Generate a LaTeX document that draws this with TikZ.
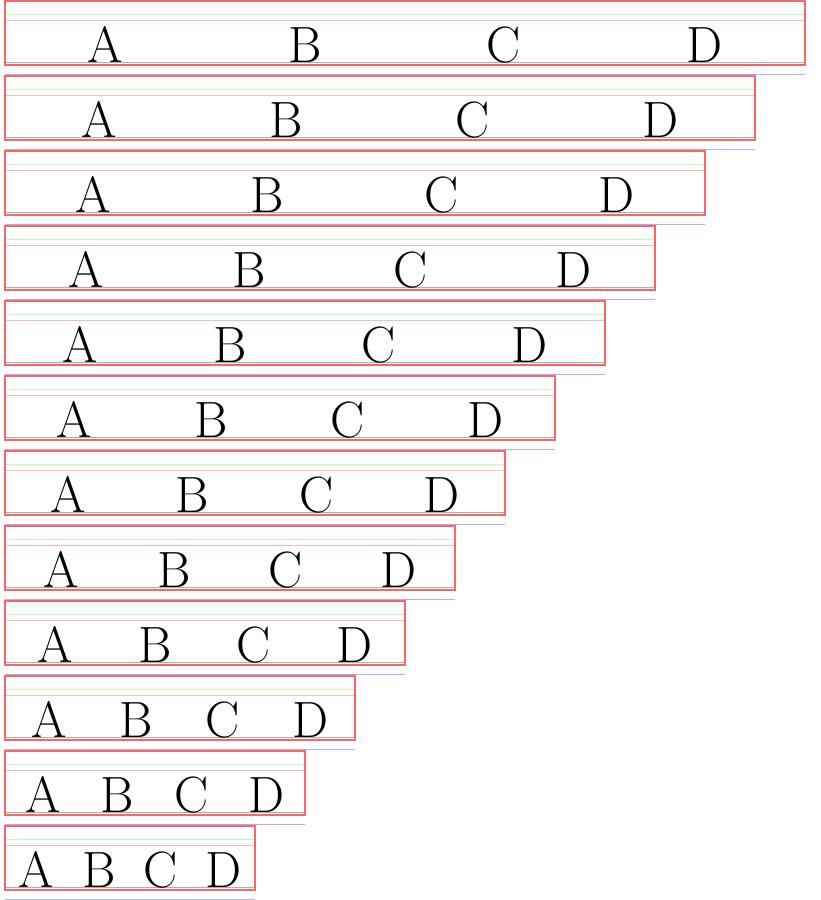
\documentclass[tikz,border=0pt]{standalone}
\usepackage{fontspec}
\definecolor{boxred}{RGB}{255,100,100}
\definecolor{lgreen}{RGB}{190,255,190}
\definecolor{lpink}{RGB}{255,185,185}
\definecolor{lgray}{RGB}{175,175,175}
\definecolor{lblue}{RGB}{175,175,255}
\newcommand{\letterfont}{\fontsize{51}{60}\selectfont}
\newlength\lenA\newlength\lenB\newlength\lenC\newlength\lenD
\tikzset{
  rowbox/.style={draw=boxred, line width=1.6pt},
  greenline/.style={draw=lgreen, line width=0.9pt},
  pinkline/.style={draw=lpink, line width=0.9pt},
  grayline/.style={draw=lgray, line width=1pt},
  blueline/.style={draw=lblue, line width=0.9pt},
  letter/.style={inner sep=0pt, outer sep=0pt, anchor=base west, font=\letterfont},
}
\begin{document}
\settowidth\lenA{\letterfont A}%
\settowidth\lenB{\letterfont B}%
\settowidth\lenC{\letterfont C}%
\settowidth\lenD{\letterfont D}%
\begin{tikzpicture}[x=1pt,y=-1pt]
\useasboundingbox (0,0) rectangle (820,900);
\pgfmathsetmacro\lwa{\lenA}
\pgfmathsetmacro\lwb{\lenB}
\pgfmathsetmacro\lwc{\lenC}
\pgfmathsetmacro\lwd{\lenD}
\foreach \i in {0,...,11} {
  \pgfmathsetmacro\rw{800-50*\i}
  \pgfmathsetmacro\yt{0.8+75*\i}
  \pgfmathsetmacro\yb{\yt+64}
  \pgfmathsetmacro\xr{5+\rw}
  \pgfmathsetmacro\gp{(\rw-\lwa-\lwb-\lwc-\lwd)/4}
  \pgfmathsetmacro\xa{5+\gp/2}
  \pgfmathsetmacro\xb{\xa+\lwa+\gp}
  \pgfmathsetmacro\xc{\xb+\lwb+\gp}
  \pgfmathsetmacro\xd{\xc+\lwc+\gp}
  \pgfmathsetmacro\ybase{\yt+61.5}
  \coordinate (tl\i) at (5,\yt);
  \coordinate (br\i) at (\xr,\yb);
  \coordinate (gl\i) at (5,\yt+13.5);
  \coordinate (gr\i) at (\xr,\yt+13.5);
  \coordinate (pl\i) at (5,\yt+19.5);
  \coordinate (pr\i) at (\xr,\yt+19.5);
  \coordinate (bl\i) at (5,\ybase);
  \coordinate (brl\i) at (\xr,\ybase);
  \coordinate (ul\i) at (5,\yt+73.5);
  \coordinate (ur\i) at (\xr,\yt+73.5);
  \draw[blueline] (ul\i) -- (ur\i);
  \draw[greenline] (gl\i) -- (gr\i);
  \draw[pinkline] (pl\i) -- (pr\i);
  \draw[grayline] (bl\i) -- (brl\i);
  \node[letter] (A\i) at (\xa,\ybase) {A};
  \node[letter] (B\i) at (\xb,\ybase) {B};
  \node[letter] (C\i) at (\xc,\ybase) {C};
  \node[letter] (D\i) at (\xd,\ybase) {D};
  \draw[rowbox] (tl\i) rectangle (br\i);
}
\end{tikzpicture}
\end{document}
